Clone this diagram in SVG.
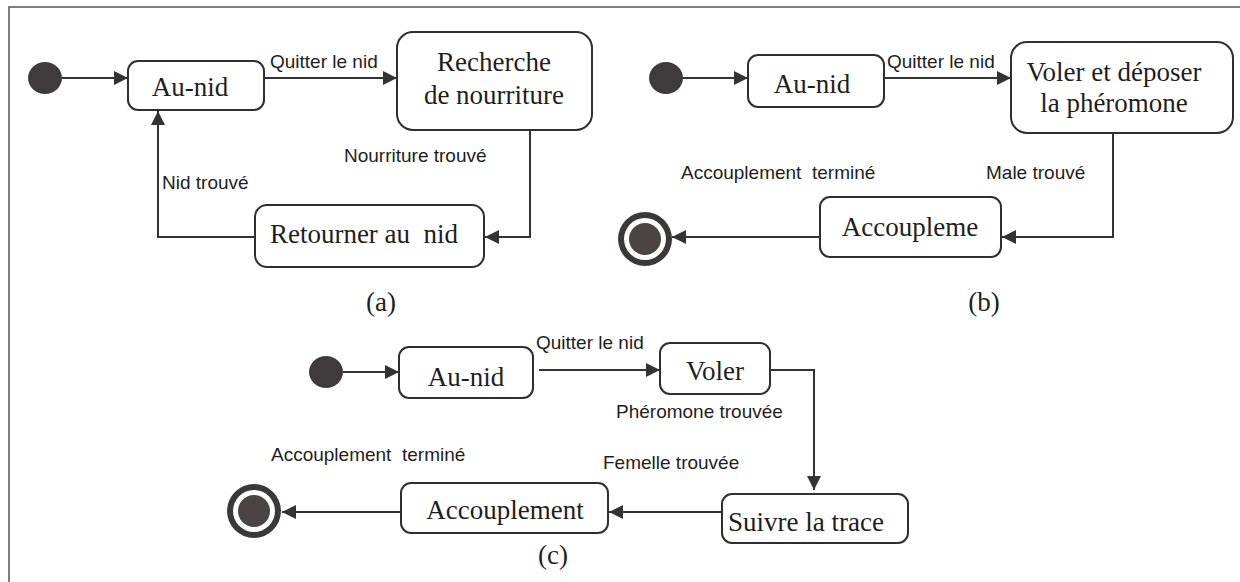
<svg xmlns="http://www.w3.org/2000/svg" width="1240" height="582" viewBox="0 0 1240 582">
  <style>
    .state { fill: #ffffff; stroke: #2f2f2f; stroke-width: 2; }
    .init { fill: #3d3b3b; }
    .final-outer { fill: #3a3838; }
    .final-ring { fill: #ffffff; }
    .final-core { fill: #4a4444; }
    .name { font-family: "Liberation Serif", "Times New Roman", serif; font-size: 27px; fill: #1e1e1e; text-anchor: middle; }
    .caption { font-family: "Liberation Serif", "Times New Roman", serif; font-size: 27px; fill: #1e1e1e; text-anchor: middle; }
    .label { font-family: "Liberation Sans", Arial, sans-serif; font-size: 19px; fill: #1e1e1e; }
    .edge { fill: none; stroke: #333333; stroke-width: 2; }
    .frame { fill: none; stroke: #555555; stroke-width: 1.5; }
  </style>
  <defs>
    <marker id="arrow" viewBox="0 0 14 14" refX="14" refY="7" markerWidth="14" markerHeight="14" markerUnits="userSpaceOnUse" orient="auto">
      <path d="M0,0 L14,7 L0,14 Z" fill="#333333"/>
    </marker>
  </defs>

  <rect width="1240" height="582" fill="#ffffff"/>
  <!-- page frame: top and left borders -->
  <path class="frame" d="M9,582 L9,7 L1240,7"/>

  <!-- connectors -->
  <g id="connectors">
    <!-- (a) -->
    <path class="edge" d="M62,78 L128,78" marker-end="url(#arrow)"/>
    <path class="edge" d="M264,78 L397,78" marker-end="url(#arrow)"/>
    <path class="edge" d="M530,130 L530,237 L485,237" marker-end="url(#arrow)"/>
    <path class="edge" d="M255,237 L158,237 L158,111" marker-end="url(#arrow)"/>
    <!-- (b) -->
    <path class="edge" d="M683,78 L748,78" marker-end="url(#arrow)"/>
    <path class="edge" d="M884,78 L1011,78" marker-end="url(#arrow)"/>
    <path class="edge" d="M1113,133 L1113,237 L1002,237" marker-end="url(#arrow)"/>
    <path class="edge" d="M820,237 L672,237" marker-end="url(#arrow)"/>
    <!-- (c) -->
    <path class="edge" d="M343,372 L399,372" marker-end="url(#arrow)"/>
    <path class="edge" d="M539,370 L660,370" marker-end="url(#arrow)"/>
    <path class="edge" d="M770,370 L814,370 L814,490" marker-end="url(#arrow)"/>
    <path class="edge" d="M722,512 L609,512" marker-end="url(#arrow)"/>
    <path class="edge" d="M401,512 L282,512" marker-end="url(#arrow)"/>
  </g>

  <!-- transition labels -->
  <g id="labels">
    <text class="label" x="270" y="68">Quitter le nid</text>
    <text class="label" x="344" y="162">Nourriture trouvé</text>
    <text class="label" x="162" y="189">Nid trouvé</text>
    <text class="label" x="887" y="68">Quitter le nid</text>
    <text class="label" x="986" y="179">Male trouvé</text>
    <text class="label" x="681" y="179" xml:space="preserve">Accouplement  terminé</text>
    <text class="label" x="536" y="349">Quitter le nid</text>
    <text class="label" x="616" y="418">Phéromone trouvée</text>
    <text class="label" x="271" y="461" xml:space="preserve">Accouplement  terminé</text>
    <text class="label" x="603" y="469">Femelle trouvée</text>
  </g>

  <!-- (a) foraging -->
  <g id="a-initial"><ellipse class="init" cx="45" cy="78" rx="17" ry="16"/></g>
  <g id="a-au-nid">
    <rect class="state" x="128" y="61" width="136" height="49" rx="10"/>
    <text class="name" x="190" y="96">Au-nid</text>
  </g>
  <g id="a-recherche">
    <rect class="state" x="397" y="32" width="195" height="98" rx="16"/>
    <text class="name" x="494" y="71">Recherche</text>
    <text class="name" x="494" y="104">de nourriture</text>
  </g>
  <g id="a-retourner">
    <rect class="state" x="255" y="205" width="229" height="62" rx="12"/>
    <text class="name" x="364" y="243" xml:space="preserve">Retourner au  nid</text>
  </g>
  <text class="caption" x="381" y="311">(a)</text>

  <!-- (b) female -->
  <g id="b-initial"><ellipse class="init" cx="666" cy="78" rx="17" ry="16"/></g>
  <g id="b-au-nid">
    <rect class="state" x="748" y="55" width="136" height="52" rx="10"/>
    <text class="name" x="812" y="93">Au-nid</text>
  </g>
  <g id="b-voler">
    <rect class="state" x="1011" y="42" width="222" height="91" rx="16"/>
    <text class="name" x="1114" y="81">Voler et déposer</text>
    <text class="name" x="1114" y="112">la phéromone</text>
  </g>
  <g id="b-accoupleme">
    <rect class="state" x="820" y="197" width="181" height="60" rx="10"/>
    <text class="name" x="910" y="236">Accoupleme</text>
  </g>
  <g id="b-final">
    <circle class="final-outer" cx="645" cy="239" r="27"/>
    <circle class="final-ring" cx="645" cy="239" r="21"/>
    <circle class="final-core" cx="645" cy="239" r="16"/>
  </g>
  <text class="caption" x="984" y="311">(b)</text>

  <!-- (c) male -->
  <g id="c-initial"><ellipse class="init" cx="326" cy="372" rx="17" ry="16"/></g>
  <g id="c-au-nid">
    <rect class="state" x="399" y="347" width="134" height="51" rx="10"/>
    <text class="name" x="466" y="386">Au-nid</text>
  </g>
  <g id="c-voler">
    <rect class="state" x="660" y="343" width="110" height="51" rx="10"/>
    <text class="name" x="715" y="380">Voler</text>
  </g>
  <g id="c-suivre">
    <rect class="state" x="722" y="494" width="186" height="49" rx="10"/>
    <text class="name" x="806" y="531">Suivre la trace</text>
  </g>
  <g id="c-accouplement">
    <rect class="state" x="401" y="483" width="207" height="50" rx="10"/>
    <text class="name" x="505" y="519">Accouplement</text>
  </g>
  <g id="c-final">
    <circle class="final-outer" cx="254" cy="511" r="27"/>
    <circle class="final-ring" cx="254" cy="511" r="21"/>
    <circle class="final-core" cx="254" cy="511" r="16"/>
  </g>
  <text class="caption" x="553" y="564">(c)</text>
</svg>
